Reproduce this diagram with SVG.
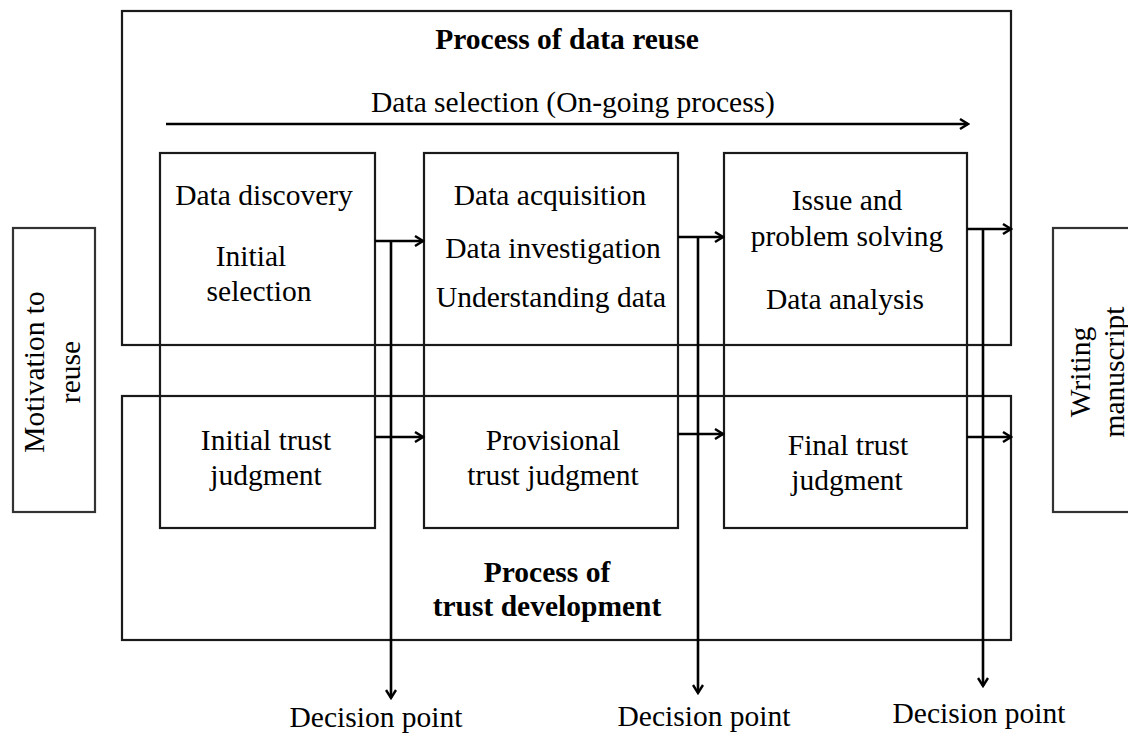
<svg xmlns="http://www.w3.org/2000/svg" width="1128" height="734" viewBox="0 0 1128 734">
  <style>
    .frame { fill: none; stroke: #1a1a1a; stroke-width: 2.2; }
    .stage { fill: none; stroke: #1a1a1a; stroke-width: 2.2; }
    .side { fill: none; stroke: #333; stroke-width: 2.2; }
    .link { fill: none; stroke: #000; stroke-width: 2.6; }
    text { font-family: "Liberation Serif", "Times New Roman", serif; font-size: 29.5px; fill: #000; text-anchor: middle; }
    .title { font-weight: bold; }
  </style>
  <defs>
    <marker id="chev" viewBox="0 0 12 12" refX="10" refY="6" markerWidth="12" markerHeight="12" markerUnits="userSpaceOnUse" orient="auto">
      <path d="M2,1 L10,6 L2,11" fill="none" stroke="#000" stroke-width="2.4"/>
    </marker>
  </defs>

  <!-- process frames -->
  <g id="reuse-process">
    <rect class="frame" x="122" y="11" width="889" height="334"/>
    <text class="title" x="567" y="49">Process of data reuse</text>
    <text x="573" y="112">Data selection (On-going process)</text>
  </g>
  <g id="trust-process">
    <rect class="frame" x="122" y="396" width="889" height="244"/>
    <text class="title" x="547" y="582">Process of</text>
    <text class="title" x="547" y="616">trust development</text>
  </g>

  <!-- side boxes -->
  <g id="motivation">
    <rect class="side" x="13" y="228" width="82" height="284"/>
    <text transform="translate(44,372) rotate(-90)">Motivation to</text>
    <text transform="translate(80,372) rotate(-90)">reuse</text>
  </g>
  <g id="writing">
    <rect class="side" x="1053" y="228" width="90" height="284"/>
    <text transform="translate(1090,372) rotate(-90)">Writing</text>
    <text transform="translate(1124,372) rotate(-90)">manuscript</text>
  </g>

  <!-- stages -->
  <g id="stage-discovery">
    <rect class="stage" x="160" y="153" width="215" height="375"/>
    <text x="264" y="205">Data discovery</text>
    <text x="251" y="266">Initial</text>
    <text x="259" y="301">selection</text>
    <text x="266" y="450">Initial trust</text>
    <text x="266" y="485">judgment</text>
  </g>
  <g id="stage-investigation">
    <rect class="stage" x="424" y="153" width="254" height="375"/>
    <text x="550" y="205">Data acquisition</text>
    <text x="553" y="258">Data investigation</text>
    <text x="551" y="307">Understanding data</text>
    <text x="553" y="450">Provisional</text>
    <text x="553" y="485">trust judgment</text>
  </g>
  <g id="stage-analysis">
    <rect class="stage" x="724" y="153" width="243" height="375"/>
    <text x="847" y="210">Issue and</text>
    <text x="847" y="246">problem solving</text>
    <text x="845" y="309">Data analysis</text>
    <text x="848" y="455">Final trust</text>
    <text x="847" y="490">judgment</text>
  </g>

  <!-- decision labels -->
  <g id="decision-1"><text x="376" y="727">Decision point</text></g>
  <g id="decision-2"><text x="704" y="726">Decision point</text></g>
  <g id="decision-3"><text x="979" y="723">Decision point</text></g>

  <!-- connectors -->
  <g id="connectors">
    <line class="link" x1="166" y1="124" x2="968" y2="124" marker-end="url(#chev)"/>

    <line class="link" x1="375" y1="241" x2="423" y2="241" marker-end="url(#chev)"/>
    <line class="link" x1="391" y1="241" x2="391" y2="698" marker-end="url(#chev)"/>
    <line class="link" x1="678" y1="237" x2="723" y2="237" marker-end="url(#chev)"/>
    <line class="link" x1="698" y1="237" x2="698" y2="693" marker-end="url(#chev)"/>
    <line class="link" x1="967" y1="229" x2="1011" y2="229" marker-end="url(#chev)"/>
    <line class="link" x1="983" y1="229" x2="983" y2="686" marker-end="url(#chev)"/>

    <line class="link" x1="375" y1="437" x2="423" y2="437" marker-end="url(#chev)"/>
    <line class="link" x1="678" y1="434" x2="723" y2="434" marker-end="url(#chev)"/>
    <line class="link" x1="967" y1="437" x2="1011" y2="437" marker-end="url(#chev)"/>
  </g>
</svg>
